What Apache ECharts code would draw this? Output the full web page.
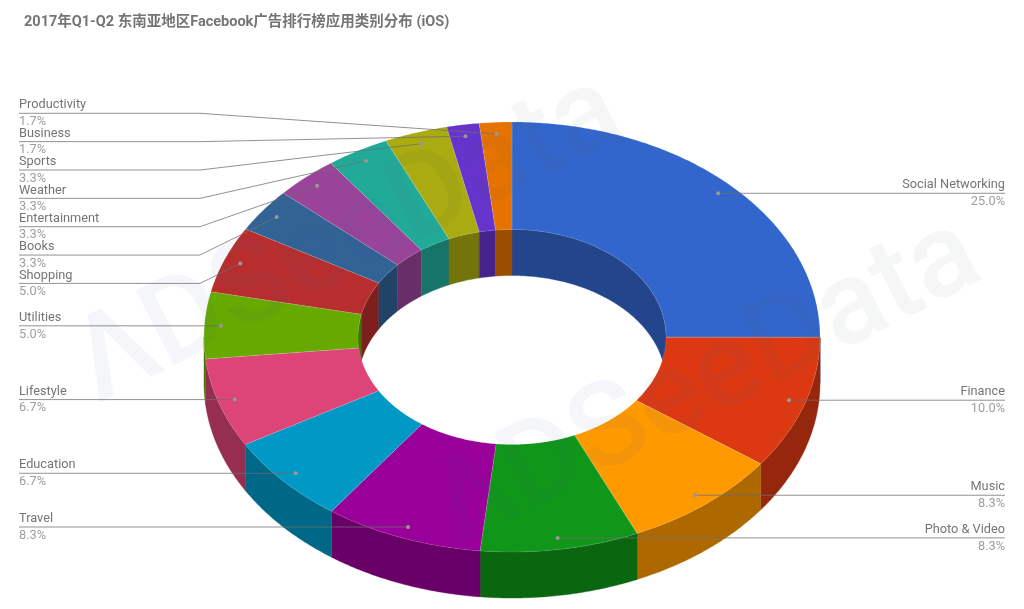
<!DOCTYPE html>
<html>
<head>
<meta charset="utf-8">
<style>html,body{margin:0;padding:0;background:#fff}#c{width:1024px;height:609px;filter:blur(0.3px)}</style>
<script src="https://cdn.jsdelivr.net/npm/echarts@6/dist/echarts.min.js"></script>
</head>
<body>
<div id="c"></div>
<script>
// ---- data ----
var chartTitle = '2017年Q1-Q2 东南亚地区Facebook广告排行榜应用类别分布 (iOS)';
var categories = ['Social Networking','Finance','Music','Photo & Video','Travel','Education','Lifestyle','Utilities','Shopping','Books','Entertainment','Weather','Sports','Business','Productivity'];
var shares = [25.0,10.0,8.3,8.3,8.3,6.7,6.7,5.0,5.0,3.3,3.3,3.3,3.3,1.7,1.7];
var colors = ['#3366cc','#dc3912','#ff9900','#109618','#990099','#0099c6','#dd4477','#66aa00','#b82e2e','#316395','#994499','#22aa99','#aaaa11','#6633cc','#e67300'];

// ---- layout ----
var CX = 512, CY = 337, RX = 308, RY = 215, HOLE = 0.5, DEPTH = 46, ANCHOR = 0.946;
var LEFT_X = 19, RIGHT_X = 1005, ELBOW_X = 200;
var STACK_COUNT = 7, STACK_BOTTOM = 283.4, STACK_STEP = 28.35;
var FONT = 'Roboto, "Noto Sans CJK SC", sans-serif';

var total = shares.reduce(function (a, b) { return a + b; }, 0);
var ranges = [];
shares.reduce(function (acc, v) { ranges.push([acc, acc + v]); return acc + v; }, 0);
function ang(i, k) { return ranges[i][k] / total * Math.PI * 2; }
function pt(a, r, dy) { return [CX + RX * r * Math.sin(a), CY - RY * r * Math.cos(a) + (dy || 0)]; }
function arc(a0, a1, r, dy) {
  var n = Math.max(2, Math.ceil(Math.abs(a1 - a0) / 0.008)), out = [];
  for (var i = 0; i <= n; i++) out.push(pt(a0 + (a1 - a0) * i / n, r, dy));
  return out;
}
function darken(hex) {
  var n = parseInt(hex.slice(1), 16), f = 0.68;
  return 'rgb(' + Math.round((n >> 16) * f) + ',' + Math.round(((n >> 8) & 255) * f) + ',' + Math.round((n & 255) * f) + ')';
}
var PI = Math.PI;
function clipWall(a0, a1, lo, hi) { var s = Math.max(a0, lo), e = Math.min(a1, hi); return s < e ? [s, e] : null; }
function wall(a0, a1, r, color) {
  return { type: 'polygon', silent: true, shape: { points: arc(a0, a1, r, 0).concat(arc(a1, a0, r, DEPTH)) },
           style: { fill: color, stroke: color, lineWidth: 0.4 } };
}
function sliceData() { return shares.map(function (v, i) { return { value: v, name: categories[i] }; }); }

function outerWalls(params) {
  var i = params.dataIndex, s = clipWall(ang(i, 0), ang(i, 1), PI / 2, PI * 1.5);
  return s ? wall(s[0], s[1], 1, darken(colors[i])) : { type: 'group', children: [] };
}
function innerWalls(params) {
  var i = params.dataIndex, a0 = ang(i, 0), a1 = ang(i, 1), kids = [];
  var s = clipWall(a0, a1, 0, PI / 2); if (s) kids.push(wall(s[0], s[1], HOLE, darken(colors[i])));
  s = clipWall(a0, a1, PI * 1.5, PI * 2); if (s) kids.push(wall(s[0], s[1], HOLE, darken(colors[i])));
  return { type: 'group', children: kids };
}
function topFace(params) {
  var i = params.dataIndex, a0 = ang(i, 0), a1 = ang(i, 1);
  return { type: 'polygon', silent: true, shape: { points: arc(a0, a1, 1).concat(arc(a1, a0, HOLE)) },
           style: { fill: colors[i], stroke: 'rgba(255,255,255,0.25)', lineWidth: 0.5 } };
}
function leaders(params) {
  var i = params.dataIndex, mid = (ang(i, 0) + ang(i, 1)) / 2, dot = pt(mid, ANCHOR);
  var right = mid < PI, n = shares.length, fromEnd = n - 1 - i;
  var endX = right ? RIGHT_X : LEFT_X, y = dot[1], pts;
  if (fromEnd < STACK_COUNT) {
    y = STACK_BOTTOM - STACK_STEP * (STACK_COUNT - 1 - fromEnd);
    pts = [[endX, y], [ELBOW_X, y], dot];
  } else {
    pts = [[endX, y], dot];
  }
  return { type: 'group', children: [
    { type: 'polyline', silent: true, shape: { points: pts }, style: { fill: null, stroke: 'rgba(110,110,110,0.75)', lineWidth: 1 } },
    { type: 'circle', silent: true, shape: { cx: dot[0], cy: dot[1], r: 2 }, style: { fill: '#999999' } },
    { type: 'text', silent: true, style: { x: endX, y: y - 8, text: categories[i], fill: '#757575', font: '12.75px ' + FONT, align: right ? 'right' : 'left', verticalAlign: 'middle' } },
    { type: 'text', silent: true, style: { x: endX, y: y + 8.5, text: shares[i].toFixed(1) + '%', fill: '#9e9e9e', font: '12.75px ' + FONT, align: right ? 'right' : 'left', verticalAlign: 'middle' } }
  ] };
}
function customSeries(render, z) {
  return { type: 'custom', coordinateSystem: 'none', silent: true, animation: false, z: z, renderItem: render, data: sliceData() };
}
function watermark(x, y) {
  return { type: 'text', silent: true, z: 20, x: x, y: y, rotation: 27 * PI / 180,
    style: { text: '{a|ΛDSee}{b|Data}', rich: {
      a: { font: '500 118px ' + FONT, fill: 'rgba(60,85,170,0.055)' },
      b: { font: '500 118px ' + FONT, fill: 'rgba(70,90,90,0.055)' } } } };
}
var chart = echarts.init(document.getElementById('c'), null, { renderer: 'canvas' });
chart.setOption({
  animation: false,
  backgroundColor: '#ffffff',
  title: { text: chartTitle, left: 19, top: 10, textStyle: { fontFamily: FONT, fontSize: 14.5, fontWeight: 'bold', color: '#757575' } },
  series: [customSeries(outerWalls, 2), customSeries(innerWalls, 3), customSeries(topFace, 4), customSeries(leaders, 6)],
  graphic: [watermark(58, 325), watermark(416, 468)]
});
</script>
</body>
</html>
